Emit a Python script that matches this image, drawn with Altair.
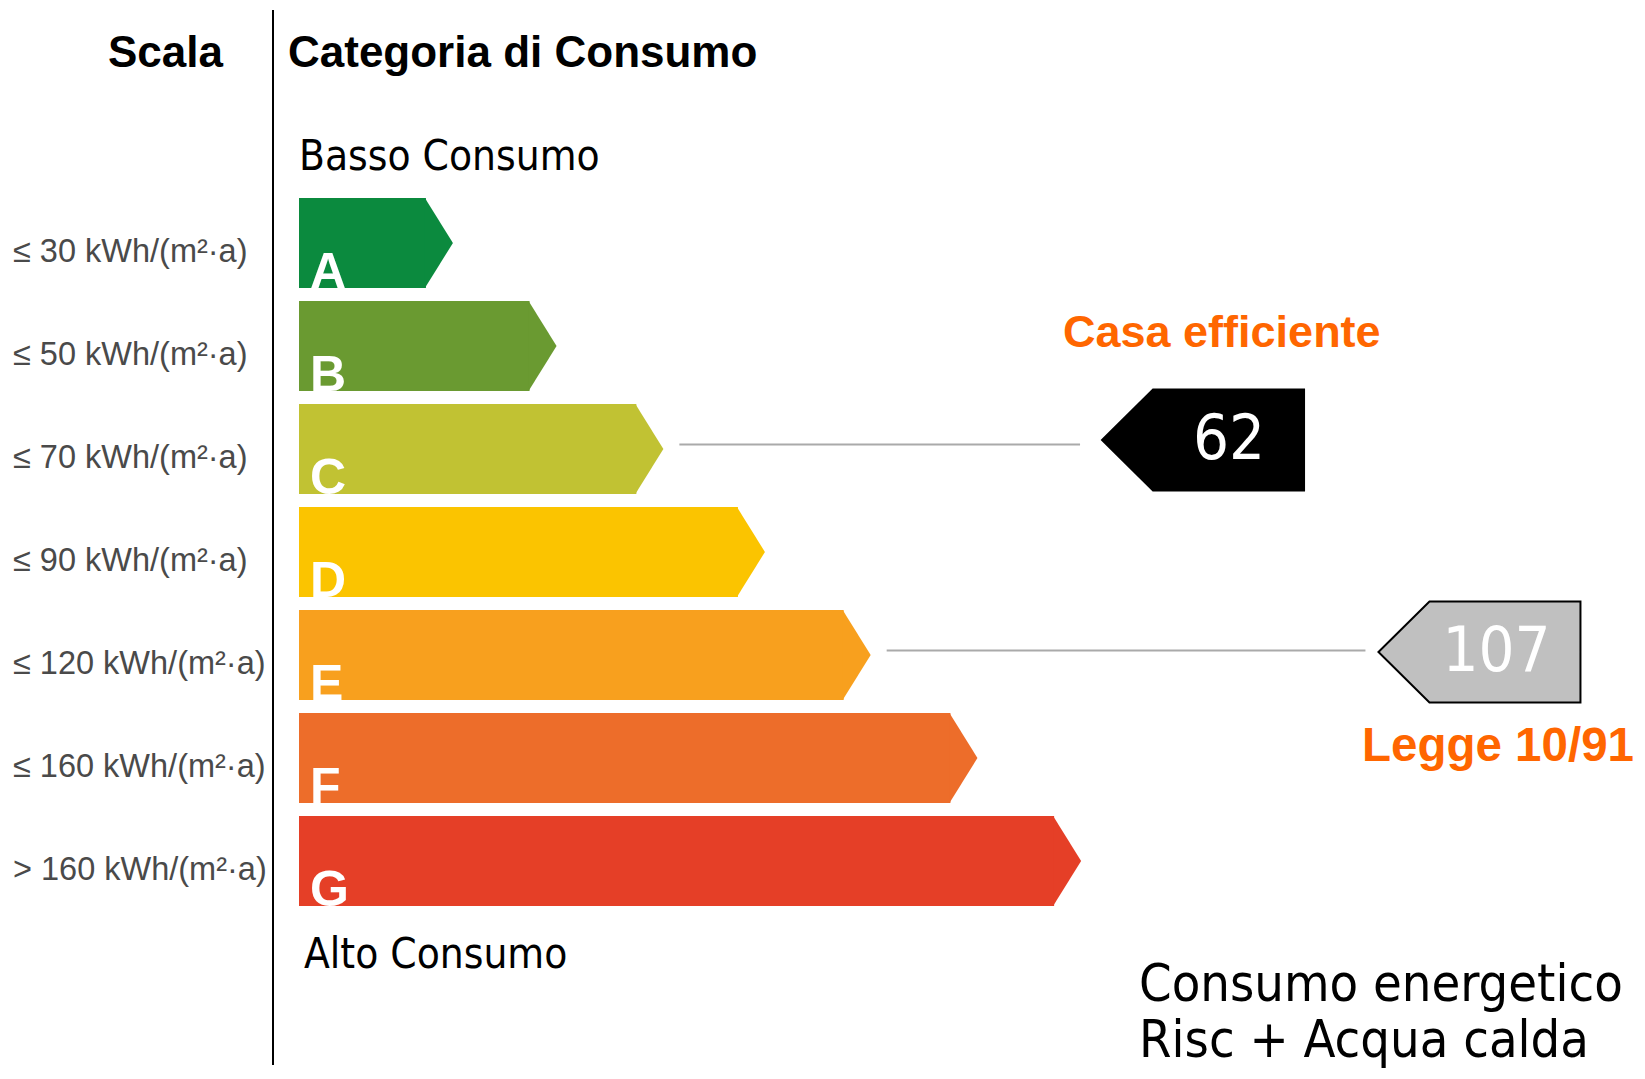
import altair as alt
import pandas as pd

# ---------------- data ----------------
classi = ["A", "B", "C", "D", "E", "F", "G"]
soglie = [
    "≤ 30 kWh/(m²·a)", "≤ 50 kWh/(m²·a)", "≤ 70 kWh/(m²·a)", "≤ 90 kWh/(m²·a)",
    "≤ 120 kWh/(m²·a)", "≤ 160 kWh/(m²·a)", "> 160 kWh/(m²·a)",
]
# bar length of each class, measured in class steps
lunghezze = [1.47, 2.46, 3.48, 4.45, 5.46, 6.48, 7.47]

valori = [62, 107]
classi_valori = ["C", "E"]
didascalie = ["Casa efficiente", "Legge 10/91"]

# ---------------- styles / layout ----------------
colori = ["#0b8a3e", "#6a9a31", "#c1c233", "#fbc400", "#f8a01e", "#ed6d2a", "#e53f27"]
tag_fill = ["#000000", "#c0c0c0"]
ARANCIO = "#ff6600"

FONT_REG = "DejaVu Sans Condensed, Liberation Sans, sans-serif"
FONT_BOLD = "Liberation Sans, Arial, sans-serif"
FONT_LABEL = "Liberation Sans, Arial, sans-serif"

W, H = 1629, 1063
STEP_X, X0 = 104.7, 291.0      # px per class step, origin of bars
STEP_Y, Y1 = 103.0, 235.0      # px per class row, centre of first row
HALF = 45 / STEP_Y

# layout of the two value tags (positions in class steps / px)
tag_tip = [7.67, 10.31]
tag_dy_px = [-9, -3]
tag_text_dx = [127, 118]
line_gap_px = [22, 13]
line_dy_px = -4.5

x_scale = alt.Scale(domain=[-X0 / STEP_X, (W - X0) / STEP_X], nice=False, zero=False)
y_scale = alt.Scale(domain=[1 - Y1 / STEP_Y, 1 + (H - Y1) / STEP_Y],
                    nice=False, zero=False, reverse=True)

bars = pd.DataFrame({
    "classe": classi,
    "rank": list(range(1, len(classi) + 1)),
    "lung": lunghezze,
    "soglia": soglie,
})
rank_v = [classi.index(c) + 1 for c in classi_valori]
tags = pd.DataFrame({
    "valore": valori,
    "classe": classi_valori,
    "didascalia": didascalie,
    "rank": rank_v,
    "lung": [lunghezze[classi.index(c)] for c in classi_valori],
    "tip": tag_tip,
    "xend": [t - g / STEP_X for t, g in zip(tag_tip, line_gap_px)],
    "ytag": [r + d / STEP_Y for r, d in zip(rank_v, tag_dy_px)],
    "yline": [r + line_dy_px / STEP_Y for r in rank_v],
    "xtext": [t + d / STEP_X for t, d in zip(tag_tip, tag_text_dx)],
})

X = lambda f: alt.X(f, scale=x_scale, axis=None)
Y = lambda f: alt.Y(f, scale=y_scale, axis=None)
col = alt.Color("classe:N", scale=alt.Scale(domain=classi, range=colori), legend=None)

base = alt.Chart(bars).transform_calculate(
    x0="0", ytop=f"datum.rank - {HALF}", ybot=f"datum.rank + {HALF}"
)

body = base.mark_rect(x2Offset=-27).encode(
    x=X("x0:Q"), x2="lung:Q", y=Y("ytop:Q"), y2="ybot:Q", color=col
)
TIP_PATH = "M -0.622 -1 L 0 0 L -0.622 1 Z"
tip = base.mark_point(shape=TIP_PATH, size=90 * 90, filled=True, opacity=1).encode(
    x=X("lung:Q"), y=Y("rank:Q"), color=col
)
lettere = base.mark_text(
    align="left", baseline="alphabetic", dx=11, dy=45, font=FONT_BOLD,
    fontWeight="bold", fontSize=50, color="white"
).encode(x=X("x0:Q"), y=Y("rank:Q"), text="classe:N")

etichette = base.mark_text(
    align="left", baseline="middle", dy=9, font=FONT_LABEL, fontSize=32.5, color="#4a4a4a"
).encode(x=alt.value(5), y=Y("rank:Q"), text="soglia:N")

tbase = alt.Chart(tags)
linee = tbase.mark_rule(xOffset=16, color="#aaaaaa", strokeWidth=2).encode(
    x=X("lung:Q"), x2="xend:Q", y=Y("yline:Q")
)
TAG_PATH = "M 0 0 L 1.01 -1 L 4.0 -1 L 4.0 1 L 1.01 1 Z"
cartellini = tbase.mark_point(shape=TAG_PATH, size=101 * 101, filled=True, opacity=1,
                              strokeWidth=2).encode(
    x=X("tip:Q"), y=Y("ytag:Q"),
    fill=alt.Fill("didascalia:N", scale=alt.Scale(domain=didascalie, range=tag_fill), legend=None),
    stroke=alt.value("#000000"),
)
numeri = tbase.mark_text(
    align="center", baseline="middle", font=FONT_REG, fontSize=63, color="white"
).encode(x=X("xtext:Q"), y=Y("ytag:Q"), text="valore:N")


def testo(s, x, y, size, weight="normal", color="black", align="left", font=FONT_REG):
    return alt.Chart(pd.DataFrame({"t": [s]})).mark_text(
        align=align, baseline="alphabetic", fontSize=size, fontWeight=weight,
        color=color, font=font
    ).encode(x=alt.value(x), y=alt.value(y), text="t:N")


separatore = alt.Chart(pd.DataFrame({"a": [0]})).mark_rule(color="black", strokeWidth=2).encode(
    x=alt.value(265), y=alt.value(2), y2=alt.value(1057)
)

testi = [
    testo("Scala", 215, 59, 44, "bold", align="right", font=FONT_BOLD),
    testo("Categoria di Consumo", 280, 59, 44, "bold", font=FONT_BOLD),
    testo("Basso Consumo", 291, 162, 42),
    testo("Alto Consumo", 296, 960, 42),
    testo("Casa efficiente", 1055, 339, 45, "bold", ARANCIO, font=FONT_BOLD),
    testo("Legge 10/91", 1626, 753, 47.5, "bold", ARANCIO, align="right", font=FONT_BOLD),
    testo("Consumo energetico", 1131, 993, 52),
    testo("Risc + Acqua calda", 1131, 1049, 52),
]

chart = alt.layer(
    separatore, body, tip, lettere, etichette, linee, cartellini, numeri, *testi
).properties(
    width=W, height=H, autosize=alt.AutoSizeParams(type="none"), padding=0,
    background="white",
).configure_view(stroke=None)

chart.save("out.html", embed_options={"renderer": "svg", "actions": False})
